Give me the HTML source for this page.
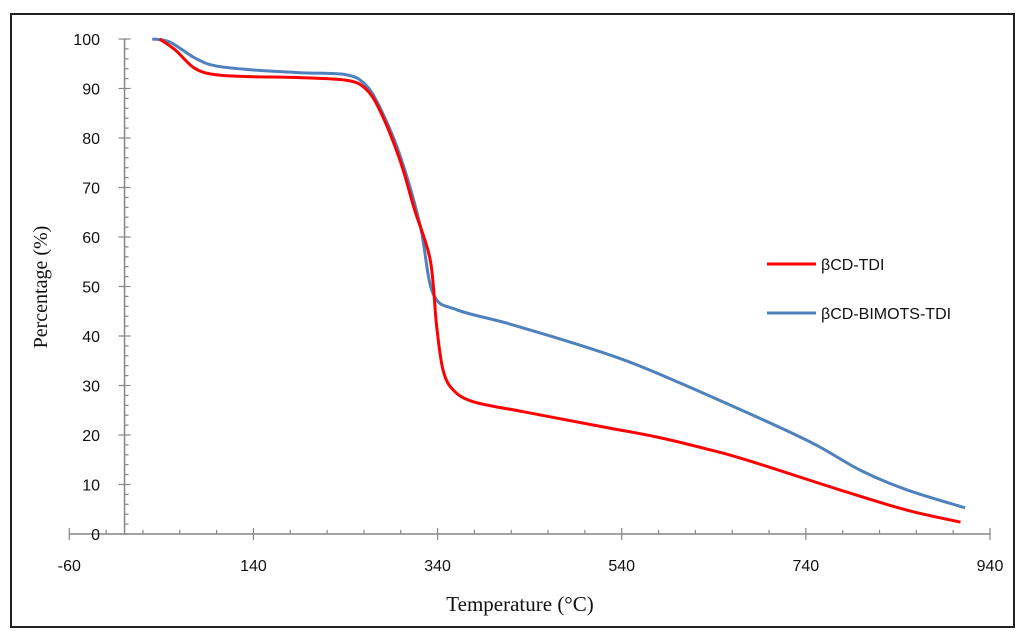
<!DOCTYPE html>
<html><head><meta charset="utf-8"><style>
html,body{margin:0;padding:0;background:#fff;}
svg{display:block;}
</style></head><body>
<svg id="chart" width="1024" height="638" viewBox="0 0 1024 638" xmlns="http://www.w3.org/2000/svg">
<rect x="11" y="14" width="1003" height="613" fill="none" stroke="#222" stroke-width="2"/>
<g id="axes"></g>
<g id="series"></g>
<text x="47" y="287" transform="rotate(-90 47 287)" text-anchor="middle" font-family="Liberation Serif, serif" font-size="20" fill="#111">Percentage (%)</text>
<text x="520" y="611" text-anchor="middle" font-family="Liberation Serif, serif" font-size="21" fill="#111">Temperature (°C)</text>
<g>
<g>
<line x1="767" y1="264" x2="816" y2="264" stroke="#ff0000" stroke-width="3"/>
<text x="821" y="270" font-family="Liberation Sans, sans-serif" font-size="16" fill="#111">βCD-TDI</text>
</g>
<g>
<line x1="767" y1="313" x2="816" y2="313" stroke="#4f81bd" stroke-width="3"/>
<text x="821" y="319" font-family="Liberation Sans, sans-serif" font-size="16" fill="#111">βCD-BIMOTS-TDI</text>
</g>
</g>
</svg>
<script>
const xTicks = [-60, 140, 340, 540, 740, 940];
const yTicks = [0, 10, 20, 30, 40, 50, 60, 70, 80, 90, 100];
const redT = [38, 55, 76, 98, 136, 190, 240, 261, 277, 299, 315, 332, 339, 346, 357, 379, 433, 524, 578, 632, 675, 777, 850, 908];
const redV = [100, 97.8, 94.1, 92.8, 92.4, 92.2, 91.7, 90.1, 85.7, 75.6, 65.5, 55.4, 41.9, 33.1, 29.1, 26.7, 24.7, 21.5, 19.6, 17.2, 15.0, 8.9, 4.8, 2.4];
const blueT = [30, 49, 76, 98, 136, 190, 240, 261, 277, 299, 321, 335, 361, 415, 487, 542, 596, 668, 712, 755, 800, 850, 913];
const blueV = [100, 99.4, 96.2, 94.6, 93.8, 93.2, 92.8, 90.9, 86.3, 76.6, 62.4, 48.6, 45.3, 42.6, 38.6, 35.2, 31.1, 25.2, 21.5, 17.6, 12.8, 8.9, 5.3];

const NS = 'http://www.w3.org/2000/svg';
function sx(v){ return 69.3 + (v + 60) * 0.9207; }
function sy(v){ return 534 - v * 4.95; }
const axes = document.getElementById('axes');
const series = document.getElementById('series');
function mk(tag, attrs, parent){ const e = document.createElementNS(NS, tag); for (const k in attrs) e.setAttribute(k, attrs[k]); parent.appendChild(e); return e; }

const xl = mk('line', {x1: sx(-60), y1: sy(0), x2: sx(940), y2: sy(0), stroke: '#868686', 'stroke-width': 1.5}, axes);


for (let v = -60; v <= 940; v += 40) {
  const major = (v + 60) % 200 === 0;
  const t = mk('line', {x1: sx(v), y1: sy(0) - (major ? 6 : 4), x2: sx(v), y2: sy(0) + (major ? 6 : 0), stroke: '#868686', 'stroke-width': 1.2}, axes);
  
  
}
xTicks.forEach(v => {
  const t = mk('text', {x: sx(v), y: 571, 'text-anchor': 'middle', 'font-family': 'Liberation Sans, sans-serif', 'font-size': 16, fill: '#111'}, axes);
  t.textContent = v;
  
  
});
const yl = mk('line', {x1: sx(0), y1: sy(0), x2: sx(0), y2: sy(100), stroke: '#868686', 'stroke-width': 1.5}, axes);


for (let v = 0; v <= 100; v += 2) {
  const major = v % 10 === 0;
  const t = mk('line', {x1: sx(0) - (major ? 6 : 0), y1: sy(v), x2: sx(0) + (major ? 6 : 4), y2: sy(v), stroke: '#868686', 'stroke-width': 1.2}, axes);
  
  
}
yTicks.forEach(v => {
  const t = mk('text', {x: 100, y: sy(v) + 6, 'text-anchor': 'end', 'font-family': 'Liberation Sans, sans-serif', 'font-size': 16, fill: '#111'}, axes);
  t.textContent = v;
  
  
});

function smoothPath(xs, ys){
  const p = xs.map((x, i) => [sx(x), sy(ys[i])]);
  let d = 'M' + p[0][0].toFixed(1) + ',' + p[0][1].toFixed(1);
  for (let i = 0; i < p.length - 1; i++) {
    const p0 = p[i - 1] || p[i], p1 = p[i], p2 = p[i + 1], p3 = p[i + 2] || p2;
    const c1 = [p1[0] + (p2[0] - p0[0]) / 6, p1[1] + (p2[1] - p0[1]) / 6];
    const c2 = [p2[0] - (p3[0] - p1[0]) / 6, p2[1] - (p3[1] - p1[1]) / 6];
    d += ' C' + c1.map(n => n.toFixed(1)).join(',') + ' ' + c2.map(n => n.toFixed(1)).join(',') + ' ' + p2.map(n => n.toFixed(1)).join(',');
  }
  return d;
}
const blue = mk('path', {d: smoothPath(blueT, blueV), fill: 'none', stroke: '#4f81bd', 'stroke-width': 3, 'stroke-linejoin': 'round'}, series);


const red = mk('path', {d: smoothPath(redT, redV), fill: 'none', stroke: '#ff0000', 'stroke-width': 3, 'stroke-linejoin': 'round'}, series);


</script>
</body></html>
